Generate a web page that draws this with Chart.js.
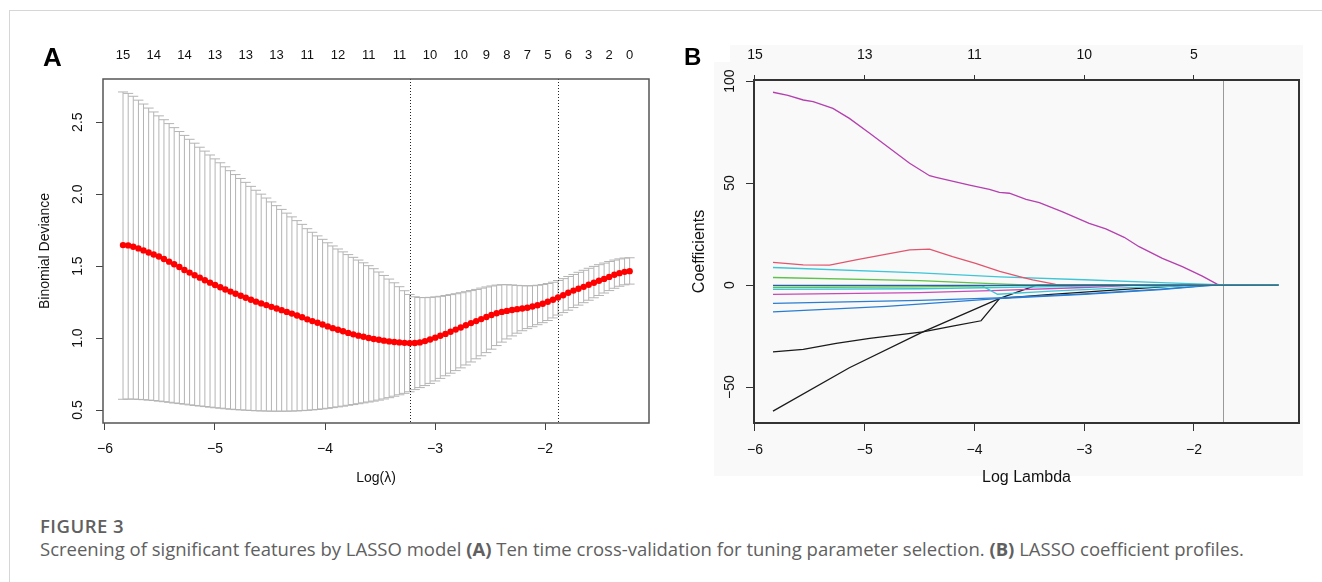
<!DOCTYPE html>
<html>
<head>
<meta charset="utf-8">
<script src="https://cdn.jsdelivr.net/npm/chart.js@4.4.1/dist/chart.umd.min.js"></script>
<style>
  html, body { margin: 0; padding: 0; background: #fff; }
  body { width: 1322px; height: 582px; position: relative; overflow: hidden; font-family: 'Liberation Sans', Arial, sans-serif; }
  #frame { position: absolute; left: 9px; top: 10px; right: 0; bottom: 0; border-left: 1px solid #d6d6d6; border-top: 1px solid #d6d6d6; }
  .letter { position: absolute; font-weight: bold; color: #000; line-height: 1; }
  #bgB1 { position: absolute; left: 714px; top: 62px; width: 589px; height: 414px; background: #f9f9f9; }
  #bgB2 { position: absolute; left: 730px; top: 45px; width: 573px; height: 17px; background: #f9f9f9; }
  #wrapA { position: absolute; left: 0; top: 0; }
  #wrapB { position: absolute; left: 680px; top: 0; }
  .cap { position: absolute; left: 40px; font-family: 'Open Sans', sans-serif; font-size: 18.5px; line-height: 24px; color: #606060; white-space: nowrap; }
  #figTitle { top: 514px; font-weight: 600; letter-spacing: 0.5px; }
  #figText { top: 537px; }
</style>
</head>
<body>
<div id="frame"></div>
<div id="bgB1"></div>
<div id="bgB2"></div>
<div id="wrapA"><canvas id="chartA" width="665" height="500"></canvas></div>
<div id="wrapB"><canvas id="chartB" width="642" height="500"></canvas></div>
<div class="letter" style="left:43px; top:44px; font-size:26px;">A</div>
<div class="letter" style="left:684px; top:45px; font-size:24px;">B</div>
<div class="cap" id="figTitle">FIGURE 3</div>
<div class="cap" id="figText">Screening of significant features by LASSO model <b>(A)</b> Ten time cross-validation for tuning parameter selection. <b>(B)</b> LASSO coefficient profiles.</div>

<script>
// ---- panel A: cross-validation curve ----
let logLambda = [
  -5.836, -5.789, -5.743, -5.696, -5.650, -5.603, -5.557, -5.510, -5.464, -5.417,
  -5.371, -5.324, -5.278, -5.231, -5.185, -5.138, -5.092, -5.045, -4.999, -4.952,
  -4.906, -4.859, -4.813, -4.766, -4.720, -4.673, -4.627, -4.580, -4.533, -4.487,
  -4.440, -4.394, -4.347, -4.301, -4.254, -4.208, -4.161, -4.115, -4.068, -4.022,
  -3.975, -3.929, -3.882, -3.836, -3.789, -3.743, -3.696, -3.650, -3.603, -3.557,
  -3.510, -3.464, -3.417, -3.370, -3.324, -3.277, -3.231, -3.184, -3.138, -3.091,
  -3.045, -2.998, -2.952, -2.905, -2.859, -2.812, -2.766, -2.719, -2.673, -2.626,
  -2.580, -2.533, -2.487, -2.440, -2.393, -2.347, -2.300, -2.254, -2.207, -2.161,
  -2.114, -2.068, -2.021, -1.975, -1.928, -1.882, -1.835, -1.789, -1.742, -1.696,
  -1.649, -1.603, -1.556, -1.510, -1.463, -1.417, -1.370, -1.324, -1.277, -1.231
];
let cvMean = [
  1.646, 1.644, 1.635, 1.623, 1.609, 1.595, 1.581, 1.567, 1.549, 1.531,
  1.513, 1.494, 1.473, 1.455, 1.437, 1.420, 1.402, 1.385, 1.369, 1.353,
  1.338, 1.323, 1.308, 1.294, 1.280, 1.266, 1.253, 1.241, 1.229, 1.217,
  1.205, 1.194, 1.182, 1.170, 1.157, 1.145, 1.130, 1.118, 1.106, 1.094,
  1.081, 1.069, 1.058, 1.047, 1.036, 1.026, 1.017, 1.009, 1.001, 0.994,
  0.988, 0.982, 0.977, 0.973, 0.970, 0.967, 0.965, 0.966, 0.970, 0.979,
  0.990, 1.003, 1.016, 1.029, 1.044, 1.059, 1.074, 1.089, 1.104, 1.118,
  1.132, 1.146, 1.160, 1.173, 1.182, 1.189, 1.195, 1.201, 1.206, 1.211,
  1.219, 1.228, 1.239, 1.252, 1.266, 1.282, 1.298, 1.315, 1.330, 1.343,
  1.356, 1.370, 1.384, 1.398, 1.411, 1.425, 1.440, 1.451, 1.460, 1.465
];
let cvUpper = [
  2.710, 2.700, 2.680, 2.653, 2.626, 2.598, 2.571, 2.544, 2.517, 2.490,
  2.462, 2.435, 2.408, 2.381, 2.354, 2.326, 2.299, 2.272, 2.245, 2.218,
  2.190, 2.163, 2.136, 2.109, 2.082, 2.054, 2.027, 2.000, 1.973, 1.946,
  1.920, 1.894, 1.868, 1.842, 1.816, 1.790, 1.760, 1.735, 1.710, 1.686,
  1.662, 1.640, 1.619, 1.599, 1.580, 1.561, 1.542, 1.523, 1.503, 1.482,
  1.459, 1.435, 1.410, 1.384, 1.357, 1.329, 1.303, 1.287, 1.282, 1.281,
  1.283, 1.286, 1.290, 1.296, 1.302, 1.308, 1.315, 1.322, 1.330, 1.338,
  1.347, 1.355, 1.362, 1.368, 1.371, 1.371, 1.369, 1.366, 1.364, 1.363,
  1.364, 1.367, 1.372, 1.379, 1.388, 1.400, 1.413, 1.428, 1.442, 1.457,
  1.471, 1.485, 1.498, 1.510, 1.521, 1.532, 1.542, 1.550, 1.556, 1.558
];
let cvLower = [
  0.575, 0.576, 0.576, 0.574, 0.572, 0.569, 0.566, 0.562, 0.558, 0.554,
  0.549, 0.545, 0.541, 0.536, 0.532, 0.528, 0.524, 0.520, 0.516, 0.513,
  0.509, 0.506, 0.503, 0.501, 0.499, 0.497, 0.495, 0.494, 0.493, 0.492,
  0.492, 0.492, 0.492, 0.493, 0.494, 0.496, 0.498, 0.501, 0.504, 0.508,
  0.512, 0.517, 0.522, 0.527, 0.533, 0.538, 0.544, 0.550, 0.556, 0.562,
  0.569, 0.577, 0.586, 0.596, 0.606, 0.616, 0.627, 0.642, 0.656, 0.670,
  0.685, 0.702, 0.720, 0.738, 0.756, 0.774, 0.793, 0.813, 0.834, 0.856,
  0.877, 0.899, 0.923, 0.948, 0.972, 0.994, 1.015, 1.034, 1.051, 1.066,
  1.079, 1.093, 1.107, 1.122, 1.140, 1.160, 1.177, 1.194, 1.212, 1.229,
  1.246, 1.263, 1.280, 1.296, 1.313, 1.330, 1.346, 1.360, 1.370, 1.375
];
// number of non-zero coefficients shown on top of panel A (index into logLambda)
let topIndexA = [0, 6, 12, 18, 24, 30, 36, 42, 48, 54, 60, 66, 71, 75, 79, 83, 87, 91, 95, 99];
let topLabelsA = ['15', '14', '14', '13', '13', '13', '11', '12', '11', '11', '10', '10', '9', '8', '7', '5', '6', '3', '2', '0'];
let lambdaMin = -3.231;
let lambda1se = -1.882;
let xTicks = [-6, -5, -4, -3, -2];
let yTicksA = [0.5, 1.0, 1.5, 2.0, 2.5];

// ---- panel B: coefficient paths (log lambda, coefficient) ----
let coefPurple = [[-5.836, 94.5], [-5.70, 93.0], [-5.56, 90.7], [-5.47, 89.9], [-5.29, 86.6], [-5.14, 81.7], [-4.955, 74.4], [-4.773, 67.0], [-4.591, 59.7], [-4.409, 53.6], [-4.35, 52.8], [-4.045, 49.0], [-3.864, 46.9], [-3.773, 45.4], [-3.682, 45.0], [-3.53, 42.0], [-3.409, 40.4], [-3.197, 35.9], [-2.955, 30.2], [-2.803, 27.5], [-2.636, 23.4], [-2.5, 18.8], [-2.288, 13.1], [-2.106, 9.0], [-1.924, 4.4], [-1.79, 0.5], [-1.76, 0], [-1.231, 0]];
let coefRed = [[-5.836, 11.1], [-5.56, 9.9], [-5.32, 9.8], [-5.08, 12.3], [-4.80, 15.2], [-4.59, 17.2], [-4.41, 17.6], [-4.20, 13.9], [-3.99, 10.6], [-3.77, 6.7], [-3.59, 4.1], [-3.47, 2.5], [-3.26, 0.3], [-3.20, 0], [-1.231, 0]];
let coefCyanA = [[-5.836, 8.6], [-4.5, 6.0], [-3.77, 4.0], [-3.0, 2.6], [-2.3, 1.2], [-1.79, 0.2], [-1.74, 0], [-1.231, 0]];
let coefGreenA = [[-5.836, 3.7], [-4.5, 2.2], [-3.9, 0.8], [-3.6, 0.2], [-3.5, 0], [-1.231, 0]];
let coefBlueA = [[-5.836, -0.2], [-3.8, -0.2], [-3.0, -0.1], [-1.231, 0]];
let coefGreenB = [[-5.836, -1.3], [-4.5, -0.9], [-3.8, -0.3], [-3.6, 0], [-1.231, 0]];
let coefCyanB = [[-5.836, -2.1], [-4.5, -1.8], [-3.8, -1.2], [-3.0, -0.5], [-2.5, 0], [-1.231, 0]];
let coefCyanC = [[-5.836, -0.4], [-3.93, -0.4], [-3.79, -4.5], [-3.3, -3.0], [-2.6, -1.3], [-2.0, -0.3], [-1.9, 0], [-1.231, 0]];
let coefMagenta = [[-5.836, -4.6], [-4.5, -3.7], [-3.77, -2.6], [-3.0, -1.2], [-2.6, -0.3], [-2.5, 0], [-1.231, 0]];
let coefBlueB = [[-5.836, -9.0], [-4.5, -7.5], [-3.79, -6.3], [-3.0, -4.3], [-2.3, -2.0], [-1.9, -0.3], [-1.8, 0], [-1.231, 0]];
let coefBlueC = [[-5.836, -13.1], [-4.8, -10.4], [-3.79, -6.6], [-3.0, -4.6], [-2.3, -2.2], [-1.9, -0.4], [-1.8, 0], [-1.231, 0]];
let coefBlackA = [[-5.836, -32.7], [-5.56, -31.5], [-5.26, -28.6], [-4.955, -26.1], [-4.47, -22.9], [-4.2, -20.1], [-3.94, -17.5], [-3.86, -12.3], [-3.77, -6.5], [-3.3, -4.6], [-2.7, -2.4], [-2.05, 0], [-1.231, 0]];
let coefBlackB = [[-5.836, -61.8], [-5.14, -40.5], [-4.47, -22.9], [-3.77, -6.5], [-3.44, -0.2], [-3.40, 0], [-1.231, 0]];
let topTicksB = [-6, -5, -4, -3, -2];
let topLabelsB = ['15', '13', '11', '10', '5'];
let yTicksB = [-50, 0, 50, 100];
let chosenLogLambda = -1.736;

Chart.defaults.font.family = "'Liberation Sans', Arial, sans-serif";
Chart.defaults.color = '#111';

function minusLabel(v) {
  return v < 0 ? '\u2212' + Math.abs(v) : String(v);
}

// error bars, reference lines and the box of panel A
let panelAPlugin = {
  id: 'panelA',
  beforeDatasetsDraw(chart) {
    let ctx = chart.ctx;
    let x = chart.scales.x;
    let y = chart.scales.y;
    let area = chart.chartArea;
    ctx.save();
    ctx.strokeStyle = '#b4b4b4';
    ctx.lineWidth = 1;
    ctx.beginPath();
    for (let i = 0; i < logLambda.length; i++) {
      let px = x.getPixelForValue(logLambda[i]);
      let yu = y.getPixelForValue(cvUpper[i]);
      let yl = y.getPixelForValue(cvLower[i]);
      ctx.moveTo(px, yu); ctx.lineTo(px, yl);
      ctx.moveTo(px - 5, yu); ctx.lineTo(px + 5, yu);
      ctx.moveTo(px - 5, yl); ctx.lineTo(px + 5, yl);
    }
    ctx.stroke();
    // dotted lines at lambda.min and lambda.1se
    ctx.strokeStyle = '#222';
    ctx.setLineDash([1, 2]);
    ctx.beginPath();
    [lambdaMin, lambda1se].forEach(function(v) {
      let px = Math.round(x.getPixelForValue(v)) + 0.5;
      ctx.moveTo(px, area.top); ctx.lineTo(px, area.bottom);
    });
    ctx.stroke();
    ctx.setLineDash([]);
    ctx.strokeStyle = '#555';
    ctx.lineWidth = 1.5;
    ctx.strokeRect(area.left, area.top, area.right - area.left, area.bottom - area.top);
    ctx.restore();
  }
};

let panelBPlugin = {
  id: 'panelB',
  beforeDatasetsDraw(chart) {
    let ctx = chart.ctx;
    let x = chart.scales.x;
    let area = chart.chartArea;
    ctx.save();
    ctx.strokeStyle = '#9a9a9a';
    ctx.lineWidth = 1;
    let px = Math.round(x.getPixelForValue(chosenLogLambda)) + 0.5;
    ctx.beginPath();
    ctx.moveTo(px, area.top); ctx.lineTo(px, area.bottom);
    ctx.stroke();
    ctx.strokeStyle = '#333';
    ctx.lineWidth = 2;
    ctx.strokeRect(area.left, area.top, area.right - area.left, area.bottom - area.top);
    ctx.restore();
  }
};

// panel A
new Chart(document.getElementById('chartA'), {
  type: 'scatter',
  data: {
    datasets: [{
      data: logLambda.map(function(v, i) { return { x: v, y: cvMean[i] }; }),
      backgroundColor: '#ff0000',
      borderWidth: 0,
      pointRadius: 3.2,
      pointHoverRadius: 3.2
    }]
  },
  options: {
    responsive: false,
    animation: false,
    events: [],
    layout: { padding: { left: 0, top: 0, right: 16, bottom: 0 } },
    plugins: { legend: { display: false }, tooltip: { enabled: false } },
    scales: {
      x: {
        type: 'linear', position: 'bottom', min: -6.018, max: -1.055,
        afterBuildTicks: function(s) { s.ticks = xTicks.map(function(v) { return { value: v }; }); },
        afterFit: function(s) { s.height = 77; },
        ticks: { callback: minusLabel, autoSkip: false, maxRotation: 0, padding: 11, font: { size: 14 } },
        grid: { drawOnChartArea: false, drawTicks: true, tickLength: 7, color: '#444' },
        border: { display: false },
        title: { display: true, text: 'Log(\u03bb)', font: { size: 14 }, padding: { top: 0, bottom: 13.6 } }
      },
      xTop: {
        type: 'linear', position: 'top', min: -6.018, max: -1.055,
        afterBuildTicks: function(s) { s.ticks = topIndexA.map(function(i) { return { value: logLambda[i] }; }); },
        afterFit: function(s) { s.height = 79; },
        ticks: { callback: function(v, i) { return topLabelsA[i]; }, autoSkip: false, maxRotation: 0, padding: 16, font: { size: 13 } },
        grid: { display: false, drawTicks: false },
        border: { display: false }
      },
      y: {
        type: 'linear', position: 'left', min: 0.41, max: 2.8,
        afterBuildTicks: function(s) { s.ticks = yTicksA.map(function(v) { return { value: v }; }); },
        afterFit: function(s) { s.width = 103; },
        ticks: { callback: function(v) { return v.toFixed(1); }, autoSkip: false, minRotation: 90, maxRotation: 90, crossAlign: 'center', padding: 8, font: { size: 14 } },
        grid: { drawOnChartArea: false, drawTicks: true, tickLength: 7, color: '#444' },
        border: { display: false },
        title: { display: true, text: 'Binomial Deviance', font: { size: 14 }, padding: { top: 36.6, bottom: 0 } }
      }
    }
  },
  plugins: [panelAPlugin]
});

// panel B
let pathsB = [
  { data: coefBlueA, color: '#2f5f9f' },
  { data: coefGreenB, color: '#62c250' },
  { data: coefCyanB, color: '#3dc6d6' },
  { data: coefCyanC, color: '#3dc6d6' },
  { data: coefMagenta, color: '#c64bb8' },
  { data: coefBlueB, color: '#2a7dd1' },
  { data: coefBlueC, color: '#2a7dd1' },
  { data: coefGreenA, color: '#5fc24c' },
  { data: coefBlackA, color: '#1a1a1a' },
  { data: coefBlackB, color: '#1a1a1a' },
  { data: coefRed, color: '#e0566e' },
  { data: coefCyanA, color: '#3dc6d6' },
  { data: coefPurple, color: '#b43fae' }
];

new Chart(document.getElementById('chartB'), {
  type: 'scatter',
  data: {
    datasets: pathsB.map(function(p) {
      return {
        data: p.data.map(function(pt) { return { x: pt[0], y: pt[1] }; }),
        showLine: true,
        borderColor: p.color,
        borderWidth: 1.3,
        pointRadius: 0,
        tension: 0
      };
    })
  },
  options: {
    responsive: false,
    animation: false,
    events: [],
    layout: { padding: { left: 0, top: 0, right: 23, bottom: 0 } },
    plugins: { legend: { display: false }, tooltip: { enabled: false } },
    scales: {
      x: {
        type: 'linear', position: 'bottom', min: -6.009, max: -1.043,
        afterBuildTicks: function(s) { s.ticks = xTicks.map(function(v) { return { value: v }; }); },
        afterFit: function(s) { s.height = 77; },
        ticks: { callback: minusLabel, autoSkip: false, maxRotation: 0, padding: 10.6, font: { size: 14 } },
        grid: { drawOnChartArea: false, drawTicks: true, tickLength: 8, color: '#333' },
        border: { display: false },
        title: { display: true, text: 'Log Lambda', font: { size: 16 }, padding: { top: 0, bottom: 12.4 } }
      },
      xTop: {
        type: 'linear', position: 'top', min: -6.009, max: -1.043,
        afterBuildTicks: function(s) { s.ticks = topTicksB.map(function(v) { return { value: v }; }); },
        afterFit: function(s) { s.height = 80; },
        ticks: { callback: function(v, i) { return topLabelsB[i]; }, autoSkip: false, maxRotation: 0, padding: 11.6, font: { size: 14 } },
        grid: { drawOnChartArea: false, drawTicks: true, tickLength: 5, color: '#333' },
        border: { display: false }
      },
      y: {
        type: 'linear', position: 'left', min: -67.6, max: 100.5,
        afterBuildTicks: function(s) { s.ticks = yTicksB.map(function(v) { return { value: v }; }); },
        afterFit: function(s) { s.width = 74; },
        ticks: { callback: minusLabel, autoSkip: false, minRotation: 90, maxRotation: 90, crossAlign: 'center', padding: 4.3, font: { size: 14 } },
        grid: { drawOnChartArea: false, drawTicks: true, tickLength: 8, color: '#333' },
        border: { display: false },
        title: { display: true, text: 'Coefficients', font: { size: 16 }, padding: { top: 10.4, bottom: 0 } }
      }
    }
  },
  plugins: [panelBPlugin]
});
</script>
</body>
</html>
